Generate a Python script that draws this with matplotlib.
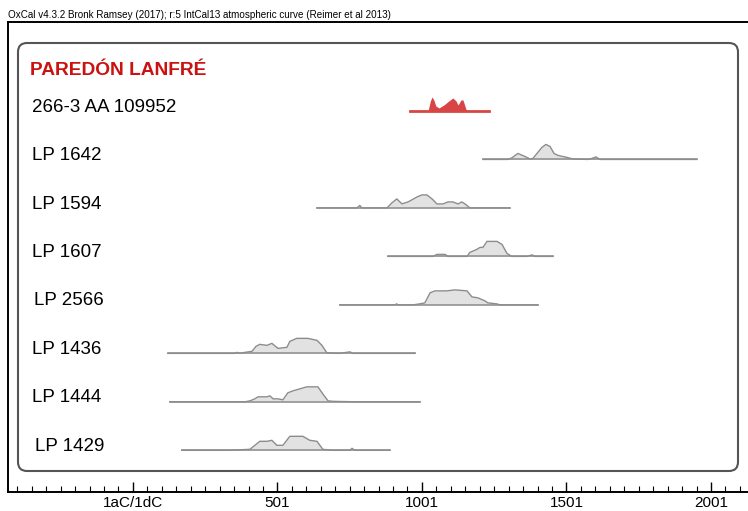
import matplotlib.pyplot as plt
from matplotlib.patches import FancyBboxPatch
from matplotlib.transforms import IdentityTransform

plt.rcParams['font.family'] = ['Liberation Sans', 'DejaVu Sans']

# -----------------------
# DATA
# -----------------------
header = "OxCal v4.3.2 Bronk Ramsey (2017); r:5 IntCal13 atmospheric curve (Reimer et al 2013)"
site = "PAREDÓN LANFRÉ"
labels = ['266-3 AA 109952', 'LP 1642', 'LP 1594', 'LP 1607',
          'LP 2566', 'LP 1436', 'LP 1444', 'LP 1429']

# calibrated ranges: calendar year and probability height
yr_266 = [959, 1022, 1030, 1036, 1042, 1049, 1060, 1077, 1094, 1108, 1119, 1126, 1136, 1143, 1153, 1157, 1233]
h_266 = [0, 0, 10, 14, 11, 5, 3, 6, 10, 13, 10, 6, 11, 11, 2, 0, 0]

yr_1642 = [1212, 1298, 1312, 1333, 1357, 1375, 1385, 1399, 1416, 1430, 1444, 1458, 1472,
           1503, 1523, 1575, 1589, 1603, 1617, 1952]
h_1642 = [0, 0, 1.5, 6, 3, 0.5, 1, 6, 12, 15, 13, 6, 4, 2, 0.5, 0, 1, 2.5, 0, 0]

yr_1594 = [638, 776, 786, 793, 880, 897, 914, 932, 942, 953, 966, 984, 1001, 1018, 1036,
           1053, 1074, 1091, 1108, 1126, 1139, 1150, 1167, 1305]
h_1594 = [0, 0, 2.5, 0, 0, 5, 9, 4, 5, 6, 8, 11, 13, 13, 9, 4, 4, 6, 6, 4, 6, 4, 0, 0]

yr_1607 = [883, 1039, 1053, 1081, 1091, 1157, 1167, 1191, 1202, 1212, 1226, 1261, 1278,
           1295, 1312, 1364, 1382, 1392, 1454]
h_1607 = [0, 0, 2, 2, 0, 0, 4, 7, 9, 9, 15, 15, 12, 3, 0, 0, 1.5, 0, 0]

yr_2566 = [717, 907, 914, 918, 970, 994, 1011, 1029, 1046, 1063, 1087, 1115, 1157, 1174,
           1195, 1219, 1229, 1260, 1271, 1402]
h_2566 = [0, 0, 1, 0, 0, 1, 2, 12, 14, 14, 14, 15, 14, 8, 7, 4, 2, 1, 0, 0]

yr_1436 = [122, 354, 361, 371, 389, 413, 427, 440, 465, 482, 503, 534, 544, 568, 606, 638,
           655, 672, 717, 752, 762, 977]
h_1436 = [0, 0, 1, 0, 1, 2, 7, 9, 8, 10, 5, 6, 12, 15, 15, 13, 8, 0.5, 0, 1.5, 0, 0]

yr_1444 = [129, 389, 406, 423, 434, 465, 475, 486, 503, 520, 537, 555, 579, 603, 641, 658,
           676, 693, 776, 994]
h_1444 = [0, 0, 1, 3, 5, 5, 6, 3, 3, 2, 9, 11, 13, 15, 15, 8, 1, 0.5, 0, 0]

yr_1429 = [170, 337, 406, 423, 440, 465, 482, 499, 520, 544, 589, 613, 638, 658, 693, 752,
           759, 769, 890]
h_1429 = [0, 0, 1, 5, 9, 9, 10, 5, 5, 14, 14, 10, 9, 1, 0, 0, 2, 0, 0]

years = [yr_266, yr_1642, yr_1594, yr_1607, yr_2566, yr_1436, yr_1444, yr_1429]
heights = [h_266, h_1642, h_1594, h_1607, h_2566, h_1436, h_1444, h_1429]

tick_pos = [1, 501, 1001, 1501, 2001]
tick_lbl = ['1aC/1dC', '501', '1001', '1501', '2001']

# -----------------------
# PLOT
# -----------------------
fig = plt.figure(figsize=(7.48, 5.11), dpi=100)
ax = fig.add_axes([8 / 748, 19 / 511, 740 / 748, 470 / 511])
ax.set_xlim(-431, 2129)
ax.set_ylim(7.86, -1.835)

row_px = 48.5  # pixels between rows
label_x = [-348, -348, -348, -348, -341, -348, -348, -338]
for i, (xs, hs) in enumerate(zip(years, heights)):
    hh = [i - h / row_px for h in hs]
    if i == 0:
        ax.fill_between(xs, i, hh, color='#d84545', lw=0, zorder=2)
        ax.plot([xs[0], xs[-1]], [i, i], color='#d84545', lw=2, zorder=3)
    else:
        ax.fill_between(xs, i, hh, color='#e2e2e2', lw=0, zorder=2)
        ax.plot(xs, hh, color='#8c8c8c', lw=1, zorder=3)
        ax.plot([xs[0], xs[-1]], [i, i], color='#8c8c8c', lw=1.1, zorder=3)
    ax.text(label_x[i], i - 0.08, labels[i], fontsize=13.5, va='center', ha='left')

ax.text(-356, -0.83, site, fontsize=13.8, fontweight='bold', color='#cc1111',
        va='center', ha='left')

ax.set_xticks(tick_pos)
ax.set_xticklabels(tick_lbl, fontsize=11)
ax.set_xticks(range(-399, 2129, 50), minor=True)
ax.tick_params(axis='x', which='major', direction='in', length=7, width=1, pad=3)
ax.tick_params(axis='x', which='minor', direction='in', length=4, width=0.8)
ax.set_yticks([])
for s in ['left', 'top', 'bottom']:
    ax.spines[s].set_linewidth(1.4)
ax.spines['right'].set_visible(False)

fig.text(8 / 748, 1 - 15 / 511, header, fontsize=7.1, va='center', ha='left')

box = FancyBboxPatch((18, 511 - 471), 720, 428,
                     boxstyle='round,pad=0,rounding_size=9',
                     transform=IdentityTransform(), fc='none', ec='#555555', lw=1.5, zorder=5)
fig.add_artist(box)

fig.savefig('out.png', dpi=100)
